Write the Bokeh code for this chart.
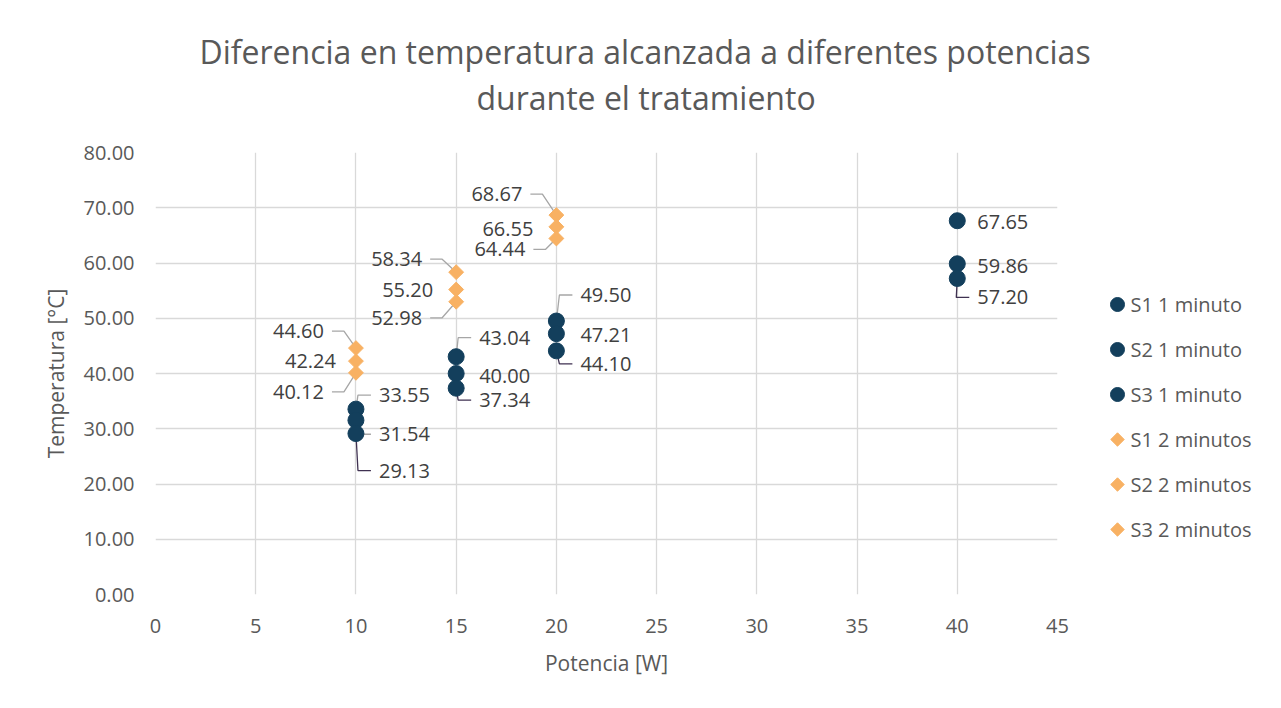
from bokeh.plotting import figure
from bokeh.layouts import row
from bokeh.models import (ColumnDataSource, Title, FixedTicker, NumeralTickFormatter, Range1d)
from bokeh.core.properties import value
from bokeh.embed import file_html
from bokeh.resources import INLINE

# ---------------- data ----------------
title_lines = ["Diferencia en temperatura alcanzada a diferentes potencias",
               "durante el tratamiento"]
x_label = "Potencia [W]"
y_label = "Temperatura [°C]"

potencia_1min = [10, 15, 20, 40]
s1_1min = [33.55, 43.04, 49.50, 67.65]
s2_1min = [31.54, 40.00, 47.21, 59.86]
s3_1min = [29.13, 37.34, 44.10, 57.20]

potencia_2min = [10, 15, 20]
s1_2min = [44.60, 58.34, 68.67]
s2_2min = [42.24, 55.20, 66.55]
s3_2min = [40.12, 52.98, 64.44]

series_names = ["S1 1 minuto", "S2 1 minuto", "S3 1 minuto",
                "S1 2 minutos", "S2 2 minutos", "S3 2 minutos"]

x_ticks = [0, 5, 10, 15, 20, 25, 30, 35, 40, 45]
y_ticks = [0, 10, 20, 30, 40, 50, 60, 70, 80]

# ---------------- style ----------------
FONT = "Open Sans"
NAVY = "#133f5c"
ORANGE = "#f8b163"
GRID = "#d9d9d9"
TXT = "#595959"
LBL = "#404040"
LEAD_GRAY = "#a6a6a6"
LEAD_PURPLE = "#3f3151"

# label offsets in screen px (dx, dy down) and leader flags
label_style = {
    "S1 1 minuto": dict(dx=[23, 23, 24, 20], dy=[-14, -19, -26, 1], lead=[1, 1, 1, 0], col=LEAD_GRAY),
    "S2 1 minuto": dict(dx=[23, 23, 24, 20], dy=[14, 2, 1, 2], lead=[1, 0, 0, 0], col=LEAD_GRAY),
    "S3 1 minuto": dict(dx=[23, 23, 24, 20], dy=[37, 12, 13, 19], lead=[1, 1, 1, 1], col=LEAD_PURPLE),
    "S1 2 minutos": dict(dx=[-32, -34, -34], dy=[-17, -13, -21], lead=[1, 1, 1], col=LEAD_GRAY),
    "S2 2 minutos": dict(dx=[-20, -23, -23], dy=[0, 0, 2], lead=[0, 0, 0], col=LEAD_GRAY),
    "S3 2 minutos": dict(dx=[-32, -34, -31], dy=[19, 16, 11], lead=[1, 1, 1], col=LEAD_GRAY),
}

H = 706
W = 1100
LW = 180
ML, MR, MT, MB = 155, W - 1057, 152, H - 594
FW, FH = W - ML - MR, H - MT - MB
X0, X1, Y0, Y1 = 0, 45, 0, 80
PXX = FW / (X1 - X0)
PXY = FH / (Y1 - Y0)

p = figure(width=W, height=H, x_range=Range1d(X0, X1), y_range=Range1d(Y0, Y1),
           output_backend="svg", toolbar_location=None,
           min_border_left=ML, min_border_right=MR, min_border_top=MT, min_border_bottom=MB)
p.outline_line_color = None
p.background_fill_color = "white"
p.border_fill_color = "white"

for ax in (p.xaxis[0], p.yaxis[0]):
    ax.axis_line_color = None
    ax.major_tick_line_color = None
    ax.minor_tick_line_color = None
    ax.major_label_text_font = FONT
    ax.major_label_text_font_size = "20px"
    ax.major_label_text_color = TXT
    ax.axis_label_text_font = FONT
    ax.axis_label_text_font_size = "21px"
    ax.axis_label_text_color = TXT
    ax.axis_label_text_font_style = "normal"

p.xaxis.ticker = FixedTicker(ticks=x_ticks)
p.yaxis.ticker = FixedTicker(ticks=y_ticks)
p.yaxis.formatter = NumeralTickFormatter(format="0.00")
p.xaxis.axis_label = x_label
p.yaxis.axis_label = y_label
p.xaxis.major_label_standoff = 18
p.yaxis.major_label_standoff = 15
p.xaxis.axis_label_standoff = 13
p.yaxis.axis_label_standoff = 11

p.xgrid.grid_line_color = GRID
p.ygrid.grid_line_color = GRID
p.xgrid.grid_line_width = 1.3
p.ygrid.grid_line_width = 1.3

series = [
    ("S1 1 minuto", potencia_1min, s1_1min, "circle"),
    ("S2 1 minuto", potencia_1min, s2_1min, "circle"),
    ("S3 1 minuto", potencia_1min, s3_1min, "circle"),
    ("S1 2 minutos", potencia_2min, s1_2min, "diamond"),
    ("S2 2 minutos", potencia_2min, s2_2min, "diamond"),
    ("S3 2 minutos", potencia_2min, s3_2min, "diamond"),
]
style_of = {"circle": dict(marker="circle", size=16, angle=0.0, color=NAVY),
            "diamond": dict(marker="square", size=10.5, angle=0.785398, color=ORANGE)}

# leader lines first (under markers)
for name, xs, ys, kind in series:
    st = label_style[name]
    lx, ly = [], []
    for x, y, dx, dy, ld in zip(xs, ys, st["dx"], st["dy"], st["lead"]):
        if not ld:
            continue
        if dx > 0:
            ex, hx = dx - 21, dx - 8
        else:
            ex, hx = dx + 20, dx + 8
        lx.append([x, x + ex / PXX, x + hx / PXX])
        ly.append([y, y - dy / PXY, y - dy / PXY])
    if lx:
        p.multi_line(lx, ly, line_color=st["col"], line_width=1.3)

for name, xs, ys, kind in series:
    s = style_of[kind]
    p.scatter(xs, ys, marker=s["marker"], size=s["size"], angle=s["angle"],
              fill_color=s["color"], line_color=s["color"])

# data labels
for name, xs, ys, kind in series:
    st = label_style[name]
    src = ColumnDataSource(dict(
        x=xs, y=ys, t=[f"{v:.2f}" for v in ys],
        xo=st["dx"], yo=st["dy"],
        al=["left" if d > 0 else "right" for d in st["dx"]]))
    p.text("x", "y", text="t", x_offset="xo", y_offset="yo", text_align="al",
           text_baseline="middle", source=src, text_font=value(FONT),
           text_font_size="20px", text_color=LBL)

# title (two lines; later-added sits farther from the plot)
p.title = None
p.add_layout(Title(text=" ", text_font_size="1px", standoff=31), "above")  # spacer
p.add_layout(Title(text=title_lines[1], align="left", offset=321, standoff=0,
                   text_font=FONT, text_font_size="32px", text_color=TXT,
                   text_font_style="normal"), "above")
p.add_layout(Title(text=title_lines[0], align="left", offset=44, standoff=2,
                   text_font=FONT, text_font_size="32px", text_color=TXT,
                   text_font_style="normal"), "above")

# ---------------- legend panel ----------------
LEG_TOP = 304     # px centre of first entry (page coordinates)
LEG_STEP = 45     # px between entries
LEG_X = 17        # px centre of the markers inside the legend panel
leg = figure(width=LW, height=H, x_range=Range1d(0, LW),
             y_range=Range1d((MT + FH - LEG_TOP) / LEG_STEP, -(LEG_TOP - MT) / LEG_STEP),
             output_backend="svg", toolbar_location=None,
             min_border_left=0, min_border_right=0, min_border_top=MT, min_border_bottom=MB)
leg.axis.visible = False
leg.grid.visible = False
leg.outline_line_color = None
leg.border_fill_color = "white"
leg.background_fill_color = "white"

leg_kinds = ["circle"] * 3 + ["diamond"] * 3
leg_size = {"circle": 14, "diamond": 9.5}
for i, (name, kind) in enumerate(zip(series_names, leg_kinds)):
    s = style_of[kind]
    leg.scatter([LEG_X], [i], marker=s["marker"], size=leg_size[kind], angle=s["angle"],
                fill_color=s["color"], line_color=s["color"])
leg.text([LEG_X] * 6, list(range(6)), text=series_names, x_offset=13,
         text_align="left", text_baseline="middle", text_font=value(FONT),
         text_font_size="20px", text_color=TXT)

layout = row(p, leg)
open("out.html", "w").write(file_html(layout, INLINE))
